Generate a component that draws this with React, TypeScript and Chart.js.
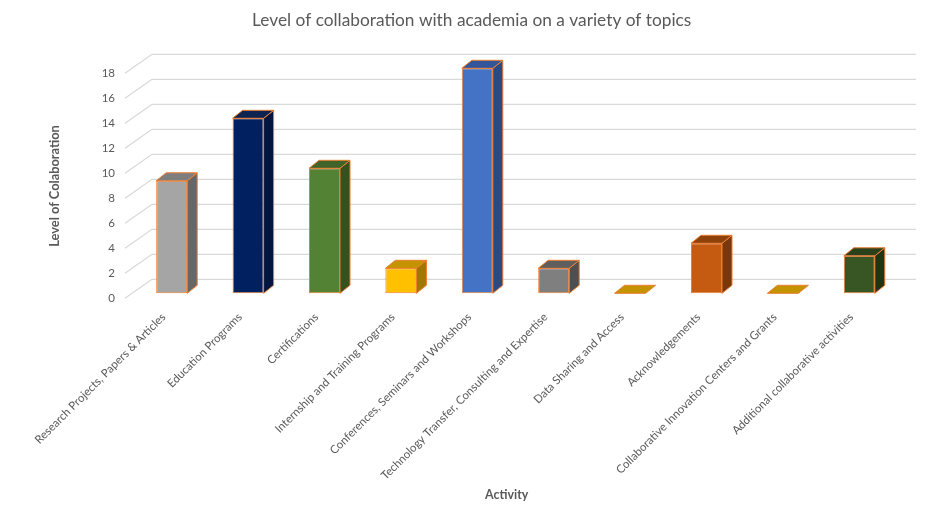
import React, { useEffect, useRef } from "react";
import { Chart, registerables } from "chart.js";

Chart.register(...registerables);

const categories = [
  "Research Projects, Papers & Articles",
  "Education Programs",
  "Certifications",
  "Internship and Training Programs",
  "Conferences, Seminars and Workshops",
  "Technology Transfer, Consulting and Expertise",
  "Data Sharing and Access",
  "Acknowledgements",
  "Collaborative Innovation Centers and Grants",
  "Additional collaborative activities",
];
const values = [9, 14, 10, 2, 18, 2, 0, 4, 0, 3];
const yTicks = [0, 2, 4, 6, 8, 10, 12, 14, 16, 18];

const frontColors = ["#A5A5A5", "#002060", "#548235", "#FFC000", "#4472C4", "#7F7F7F", "#FFC000", "#C55A11", "#FFC000", "#375623"];
const topColors = ["#7E7E7E", "#0D2352", "#3F6328", "#C49300", "#33569A", "#5F5F5F", "#C49300", "#8F410C", "#C49300", "#2A411B"];
const sideColors = ["#676767", "#001540", "#34521F", "#A07700", "#2B4A82", "#4F4F4F", "#A07700", "#7A370A", "#A07700", "#213516"];

const TITLE = "Level of collaboration with academia on a variety of topics";
const Y_TITLE = "Level of Colaboration";
const X_TITLE = "Activity";
const EDGE = "#ED7D31";
const TEXT = "#595959";
const FONT = "Lato, 'Open Sans', sans-serif";

const DX = 10;
const DY = -8;
const SHIFT = -5;

const box3d = {
  id: "box3d",
  beforeDatasetsDraw(chart: any) {
    const { ctx, chartArea } = chart;
    const y = chart.scales.y;
    ctx.save();
    ctx.strokeStyle = "#D9D9D9";
    ctx.lineWidth = 1.3;
    yTicks.forEach((v) => {
      const yF = y.getPixelForValue(v);
      const yB = yF - 19;
      ctx.beginPath();
      ctx.moveTo(chartArea.left - 8.5, yF);
      ctx.lineTo(chartArea.left + 18.5, yB);
      ctx.lineTo(chartArea.right + 18.5, yB);
      ctx.stroke();
    });
    ctx.restore();
    ctx.save();
    ctx.translate(0, SHIFT);
  },
  afterDatasetsDraw(chart: any) {
    const { ctx } = chart;
    const meta = chart.getDatasetMeta(0);
    ctx.lineWidth = 1;
    ctx.strokeStyle = EDGE;
    ctx.lineJoin = "round";
    meta.data.forEach((bar: any, i: number) => {
      const p = bar.getProps(["x", "y", "base", "width"], true);
      const l = p.x - p.width / 2;
      const r = p.x + p.width / 2;
      const t = Math.min(p.y, p.base);
      const b = Math.max(p.y, p.base);
      if (b - t > 0.5) {
        ctx.beginPath();
        ctx.moveTo(r, t);
        ctx.lineTo(r + DX, t + DY);
        ctx.lineTo(r + DX, b + DY);
        ctx.lineTo(r, b);
        ctx.closePath();
        ctx.fillStyle = sideColors[i];
        ctx.fill();
        ctx.stroke();
      }
      ctx.beginPath();
      ctx.moveTo(l, t);
      ctx.lineTo(l + DX, t + DY);
      ctx.lineTo(r + DX, t + DY);
      ctx.lineTo(r, t);
      ctx.closePath();
      ctx.fillStyle = topColors[i];
      ctx.fill();
      ctx.stroke();
    });
    ctx.restore();
  },
  afterDraw(chart: any) {
    const { ctx } = chart;
    ctx.save();
    ctx.fillStyle = TEXT;
    ctx.textAlign = "center";
    ctx.textBaseline = "middle";
    ctx.font = `17.3px ${FONT}`;
    ctx.fillText(TITLE, 471.7, 20);
    ctx.font = `bold 12.4px ${FONT}`;
    ctx.fillText(X_TITLE, 506.7, 495);
    ctx.font = `bold 12.8px ${FONT}`;
    ctx.translate(55, 186);
    ctx.rotate(-Math.PI / 2);
    ctx.fillText(Y_TITLE, 0, 0);
    ctx.restore();
  },
};

export default function App() {
  const ref = useRef<HTMLCanvasElement>(null);
  useEffect(() => {
    document.body.style.margin = "0";
    const chart = new Chart(ref.current as HTMLCanvasElement, {
      type: "bar",
      data: {
        labels: categories,
        datasets: [
          {
            data: values,
            backgroundColor: frontColors,
            borderColor: EDGE,
            borderWidth: 1,
            borderSkipped: false,
            barPercentage: 0.406,
            categoryPercentage: 1,
            clip: false as any,
          },
        ],
      },
      options: {
        animation: false,
        responsive: false,
        layout: { padding: { top: 73.3, right: 28.5, left: 0, bottom: 0 } },
        plugins: { legend: { display: false }, tooltip: { enabled: false }, title: { display: false } },
        scales: {
          x: {
            grid: { display: false, drawTicks: false },
            border: { display: false },
            ticks: {
              autoSkip: false,
              maxRotation: 45,
              minRotation: 45,
              padding: 12,
              labelOffset: -8,
              color: TEXT,
              font: { family: FONT, size: 11.4 },
            },
            afterFit: (s: any) => {
              s.height = 219.7;
            },
          },
          y: {
            min: 0,
            max: 18,
            grid: { display: false, drawTicks: false },
            border: { display: false },
            ticks: {
              stepSize: 2,
              padding: 18.5,
              color: TEXT,
              font: { family: FONT, size: 11.5 },
            },
            afterFit: (s: any) => {
              s.width = 133.5;
            },
          },
        },
      },
      plugins: [box3d],
    });
    return () => chart.destroy();
  }, []);
  return <canvas ref={ref} width={926} height={518} />;
}
